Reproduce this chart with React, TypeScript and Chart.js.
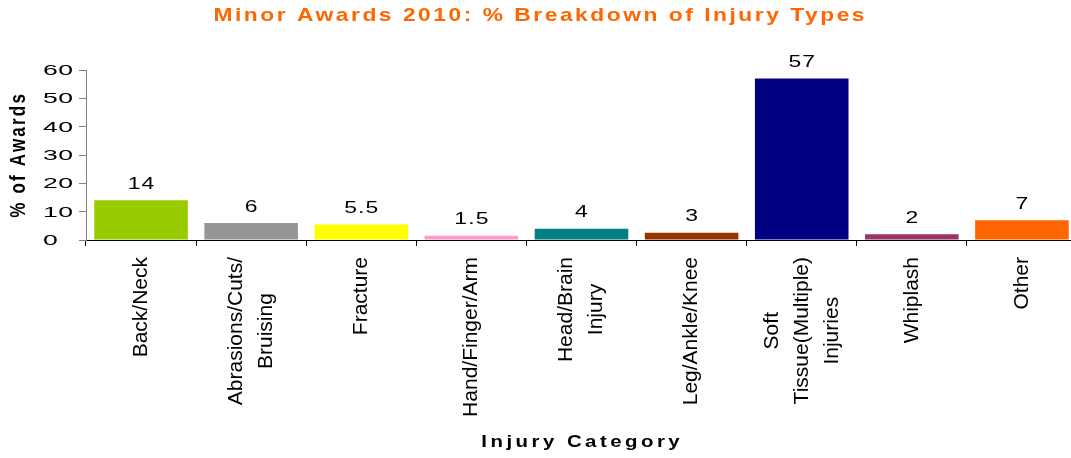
import React, { useEffect, useRef } from "react";
import { Chart, registerables } from "chart.js";

Chart.register(...registerables);

const chartTitle = "Minor Awards 2010: % Breakdown of Injury Types";
const xTitle = "Injury Category";
const yTitle = "% of Awards";
const categories: string[][] = [
  ["Back/Neck"],
  ["Abrasions/Cuts/", "Bruising"],
  ["Fracture"],
  ["Hand/Finger/Arm"],
  ["Head/Brain", "Injury"],
  ["Leg/Ankle/Knee"],
  ["Soft", "Tissue(Multiple)", "Injuries"],
  ["Whiplash"],
  ["Other"],
];
const values = [14, 6, 5.5, 1.5, 4, 2.6, 57, 2, 7];
const valueLabels = ["14", "6", "5.5", "1.5", "4", "3", "57", "2", "7"];
const barColors = ["#99CC00", "#969696", "#FFFF00", "#FF99CC", "#008080", "#993300", "#000080", "#993366", "#FF6600"];
const yTicks = [0, 10, 20, 30, 40, 50, 60];

const FAMILY = '"Liberation Sans", Arial, sans-serif';

type TOpts = {
  font: string;
  color: string;
  align: "left" | "center" | "right";
  sx?: number;
  ls?: number;
  rotate?: boolean;
};

function drawText(ctx: CanvasRenderingContext2D, text: string, x: number, y: number, o: TOpts) {
  ctx.save();
  ctx.translate(x, y);
  const s = o.sx ?? 1;
  if (o.rotate) {
    ctx.rotate(-Math.PI / 2);
    ctx.scale(1, s);
  } else {
    ctx.scale(s, 1);
  }
  ctx.font = o.font;
  ctx.fillStyle = o.color;
  ctx.textBaseline = "middle";
  ctx.textAlign = "left";
  (ctx as any).letterSpacing = "0px";
  const ls = o.ls ?? 0;
  const n = [...text].length;
  const w = ctx.measureText(text).width + ls * (n - 1);
  let start = 0;
  if (o.align === "center") start = -w / 2;
  else if (o.align === "right") start = -w;
  (ctx as any).letterSpacing = ls + "px";
  ctx.fillText(text, start, 0);
  ctx.restore();
}

const textPlugin = {
  id: "customText",
  afterDraw(chart: any) {
    const ctx: CanvasRenderingContext2D = chart.ctx;
    const xs = chart.scales.x;
    const ys = chart.scales.y;
    const area = chart.chartArea;

    // title
    drawText(ctx, chartTitle, 539, 16, {
      font: `bold 19px ${FAMILY}`, color: "#FF6600", align: "center", sx: 1.2, ls: 2.1,
    });

    // y tick labels (left aligned)
    yTicks.forEach((v) => {
      const py = ys.getPixelForValue(v);
      drawText(ctx, String(v), 43, py + 1, {
        font: `14px ${FAMILY}`, color: "#000", align: "left", sx: 1.9, ls: 0.3,
      });
    });

    // y title
    drawText(ctx, yTitle, 19, 156, {
      font: `bold 17px ${FAMILY}`, color: "#000", align: "center", sx: 1.3, ls: 2.2, rotate: true,
    });

    // data labels
    const meta = chart.getDatasetMeta(0);
    meta.data.forEach((bar: any, i: number) => {
      drawText(ctx, valueLabels[i], bar.x, bar.y - 16, {
        font: `17px ${FAMILY}`, color: "#000", align: "center", sx: 1.35, ls: 0.8,
      });
    });

    // x category labels: rotated, lines centered within block
    const pitch = 30;
    const top = area.bottom + 17;
    ctx.save();
    ctx.font = `21px ${FAMILY}`;
    categories.forEach((lines, i) => {
      const cx = xs.getPixelForValue(i);
      ctx.font = `21px ${FAMILY}`;
      const maxW = Math.max(...lines.map((l) => ctx.measureText(l).width));
      const cy = top + maxW / 2;
      lines.forEach((line, j) => {
        const lx = cx + (j - (lines.length - 1) / 2) * pitch;
        drawText(ctx, line, lx, cy, {
          font: `21px ${FAMILY}`, color: "#000", align: "center", rotate: true,
        });
      });
    });
    ctx.restore();

    // x title
    drawText(ctx, xTitle, (area.left + area.right) / 2 - 1, 442, {
      font: `bold 17px ${FAMILY}`, color: "#000", align: "center", sx: 1.2, ls: 2.9,
    });
  },
};

export default function App() {
  const ref = useRef<HTMLCanvasElement | null>(null);

  useEffect(() => {
    if (!ref.current) return;
    const chart = new Chart(ref.current, {
      type: "bar",
      data: {
        labels: categories.map((c) => c.join(" ")),
        datasets: [
          {
            data: values,
            backgroundColor: barColors,
            borderWidth: 0,
            barPercentage: 0.85,
            categoryPercentage: 1,
          },
        ],
      },
      options: {
        responsive: false,
        animation: false,
        devicePixelRatio: 1,
        layout: { padding: { top: 70, left: 0, right: 13, bottom: 0 } },
        plugins: {
          legend: { display: false },
          title: { display: false },
          tooltip: { enabled: false },
        },
        scales: {
          x: {
            grid: { display: true, drawOnChartArea: false, offset: true, color: "#000", tickLength: 6 },
            border: { display: true, color: "#000", width: 1 },
            ticks: { display: false },
            afterFit: (s: any) => {
              s.height = 218;
            },
          },
          y: {
            min: 0,
            max: 60,
            ticks: { display: false, stepSize: 10 },
            grid: { drawOnChartArea: false, color: "#808080", tickLength: 7 },
            border: { display: true, color: "#808080", width: 1 },
            afterFit: (s: any) => {
              s.width = 86;
            },
          },
        },
      },
      plugins: [textPlugin],
    } as any);
    return () => chart.destroy();
  }, []);

  return (
    <div
      style={{
        position: "fixed",
        left: 0,
        top: 0,
        width: 1071,
        height: 458,
        overflow: "hidden",
        background: "#fff",
      }}
    >
      <canvas ref={ref} width={1090} height={458} style={{ display: "block", width: 1090, height: 458 }} />
    </div>
  );
}
